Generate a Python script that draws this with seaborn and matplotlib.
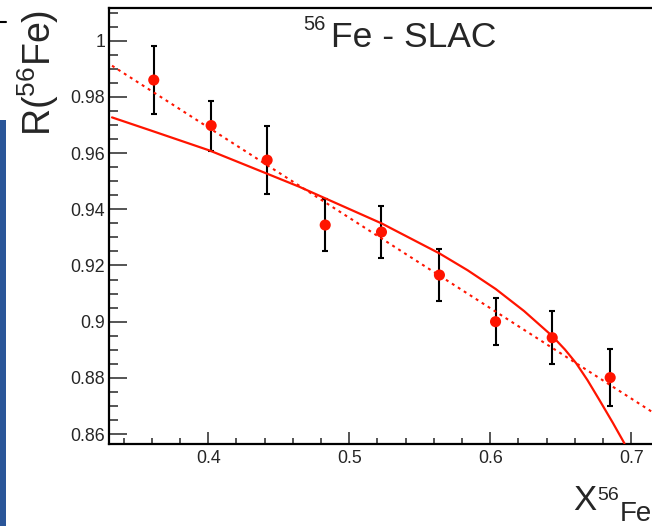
import matplotlib
matplotlib.use("Agg")
import numpy as np
import pandas as pd
import seaborn as sns
import matplotlib.pyplot as plt
from matplotlib.ticker import MultipleLocator, FuncFormatter
from matplotlib.patches import Rectangle
from matplotlib.lines import Line2D

# ---- data ----
x_data = [0.3614, 0.4021, 0.4418, 0.4830, 0.5229, 0.5640, 0.6038, 0.6440, 0.6851]
r_data = [0.9860, 0.9698, 0.9575, 0.9344, 0.9319, 0.9166, 0.9000, 0.8943, 0.8801]
r_err = [0.0122, 0.0089, 0.0122, 0.0091, 0.0093, 0.0091, 0.0083, 0.0094, 0.0102]

fit_x = [0.3318, 0.7145]
fit_r = [0.9911, 0.8680]

model_x = [0.3318, 0.3584, 0.4011, 0.4411, 0.4647, 0.4830, 0.5229, 0.5640,
           0.5840, 0.6040, 0.6240, 0.6440, 0.6530, 0.6610, 0.6690, 0.6775, 0.6870, 0.6952]
model_r = [0.9727, 0.9682, 0.9609, 0.9528, 0.9480, 0.9439, 0.9350, 0.9243,
           0.9183, 0.9116, 0.9038, 0.8949, 0.8901, 0.8852, 0.8792, 0.8721, 0.8640, 0.8567]

title_sup = "56"
title_main = "Fe - SLAC"

sns.set_style("ticks")
plt.rcParams["font.family"] = ["Liberation Sans", "DejaVu Sans"]
plt.rcParams["mathtext.fontset"] = "custom"
plt.rcParams["mathtext.rm"] = "Liberation Sans"
plt.rcParams["mathtext.it"] = "Liberation Sans:italic"
plt.rcParams["mathtext.bf"] = "Liberation Sans:bold"

W, H = 652, 526
fig = plt.figure(figsize=(W / 100, H / 100), dpi=100)
fig.patch.set_facecolor("white")

left_px, right_px, top_px, bot_px = 108.5, 700, 8, 443.5
ax = fig.add_axes([left_px / W, (H - bot_px) / H, (right_px - left_px) / W, (bot_px - top_px) / H])
ax.set_facecolor("white")

xpx_per_unit = 1410.0
ypx_per_unit = 2810.0
x0 = 0.3293
ax.set_xlim(x0, x0 + (right_px - left_px) / xpx_per_unit)
y0 = 0.85665
ax.set_ylim(y0, y0 + (bot_px - top_px) / ypx_per_unit)

red = "#ff1400"

df_model = pd.DataFrame({"x": model_x, "r": model_r})
df_fit = pd.DataFrame({"x": fit_x, "r": fit_r})
df_pts = pd.DataFrame({"x": x_data, "r": r_data, "e": r_err})

ax.errorbar(df_pts["x"], df_pts["r"], yerr=df_pts["e"], fmt="none", ecolor="black",
            elinewidth=1.5, capsize=2.4, capthick=1.5, zorder=3)
sns.lineplot(data=df_model, x="x", y="r", ax=ax, color=red, lw=1.6, sort=False, zorder=4)
sns.lineplot(data=df_fit, x="x", y="r", ax=ax, color=red, lw=1.5, sort=False, zorder=4,
             linestyle=(0, (1.4, 2.0)))
sns.scatterplot(data=df_pts, x="x", y="r", ax=ax, color=red, s=64, edgecolor="none",
                linewidth=0, zorder=5)

ax.set_xlabel("")
ax.set_ylabel("")

ax.spines["right"].set_visible(False)
for side in ["left", "bottom", "top"]:
    ax.spines[side].set_linewidth(1.6)
    ax.spines[side].set_color("black")

ax.xaxis.set_major_locator(MultipleLocator(0.1))
ax.xaxis.set_minor_locator(MultipleLocator(0.02))
ax.yaxis.set_major_locator(MultipleLocator(0.02))
ax.yaxis.set_minor_locator(MultipleLocator(0.005))
fmt = FuncFormatter(lambda v, p: "{:g}".format(round(v, 4)))
ax.xaxis.set_major_formatter(fmt)
ax.yaxis.set_major_formatter(fmt)

ax.tick_params(axis="y", which="major", direction="in", length=13, width=1.1,
               labelsize=12.8, pad=2.5, left=True, right=False)
ax.tick_params(axis="y", which="minor", direction="in", length=6.5, width=1.1,
               left=True, right=False)
ax.tick_params(axis="x", which="major", direction="in", length=8.6, width=1.1,
               labelsize=12.8, pad=5, bottom=True, top=False)
ax.tick_params(axis="x", which="minor", direction="in", length=4.3, width=1.1,
               bottom=True, top=False)
ax.grid(False)

# title
fig.text(303 / W, 1 - 30 / H, title_sup, fontsize=14.5, ha="left", va="baseline")
fig.text(331 / W, 1 - 47 / H, title_main, fontsize=25.5, ha="left", va="baseline")

# x axis title
fig.text(573 / W, 1 - 510 / H, "X", fontsize=25, ha="left", va="baseline")
fig.text(597 / W, 1 - 500 / H, "56", fontsize=14, ha="left", va="baseline")
fig.text(620 / W, 1 - 521 / H, "Fe", fontsize=20, ha="left", va="baseline")

# y axis title
fig.text(38 / W, 1 - 73 / H, r"R($^{56}$Fe)", fontsize=27, rotation=90,
         ha="center", va="center")

# slide fragments on the left edge
fig.patches.append(Rectangle((0, 0), 6 / W, (H - 120) / H, transform=fig.transFigure,
                             facecolor="#2a5699", edgecolor="none", zorder=0))
fig.lines.append(Line2D([0, 6 / W], [1 - 22 / H, 1 - 22 / H], transform=fig.transFigure,
                        color="black", lw=1.5))

fig.savefig("out.png", dpi=100)
